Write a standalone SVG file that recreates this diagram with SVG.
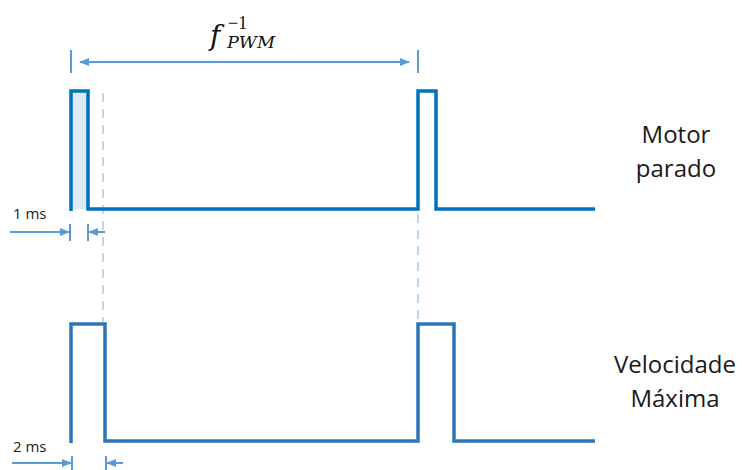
<svg xmlns="http://www.w3.org/2000/svg" width="742" height="470" viewBox="0 0 742 470">
<defs>
<marker id="ah" markerWidth="10" markerHeight="8" refX="9" refY="4" orient="auto" markerUnits="userSpaceOnUse">
<path d="M0,0 L10,4 L0,8 Z" fill="#5B9BD5"/>
</marker>
<style>
.wave1{fill:none;stroke:#0070C0;stroke-width:3.5;stroke-linejoin:miter}
.wave2{fill:none;stroke:#2E75B6;stroke-width:3.5;stroke-linejoin:miter}
.dim{fill:none;stroke:#5B9BD5;stroke-width:2}
.dash{fill:none;stroke:#BDD7EE;stroke-width:2;stroke-dasharray:9,7}
.lbl{font-family:"Open Sans","Liberation Sans",sans-serif;font-size:24px;fill:#1a1a1a;text-anchor:middle}
.ms{font-family:"Open Sans","Liberation Sans",sans-serif;font-size:15px;fill:#1a1a1a}
.mi{font-family:"DejaVu Serif","Liberation Serif",serif;font-style:italic;fill:#111}
.mn{font-family:"Liberation Serif",serif;font-style:normal;fill:#111}
</style>
</defs>
<rect width="742" height="470" fill="#fff"/>
<g id="guides">
<line class="dash" x1="103" y1="93" x2="103" y2="322"/>
<line class="dash" x1="418" y1="214" x2="418" y2="322"/>
</g>
<g id="wave-top">
<rect x="71" y="91" width="17" height="118" fill="#DEEBF7"/>
<path class="wave1" d="M71,211 V91 H88 V209 H418 V91 H436 V209 H595"/>
</g>
<g id="wave-bottom">
<path class="wave2" d="M71,443 V324 H105 V441 H418 V324 H454 V441 H595"/>
</g>
<g id="connectors">
<line class="dim" x1="71" y1="50" x2="71" y2="73"/>
<line class="dim" x1="418" y1="50" x2="418" y2="73"/>
<line class="dim" x1="80" y1="62" x2="409" y2="62" marker-end="url(#ah)"/>
<line class="dim" x1="409" y1="62" x2="80" y2="62" marker-end="url(#ah)"/>
<line class="dim" x1="70" y1="224" x2="70" y2="241"/>
<line class="dim" x1="88" y1="224" x2="88" y2="241"/>
<line class="dim" x1="10" y1="232" x2="69" y2="232" marker-end="url(#ah)"/>
<line class="dim" x1="105" y1="232" x2="89" y2="232" marker-end="url(#ah)"/>
<line class="dim" x1="72" y1="456" x2="72" y2="470"/>
<line class="dim" x1="106" y1="456" x2="106" y2="470"/>
<line class="dim" x1="12" y1="463" x2="71" y2="463" marker-end="url(#ah)"/>
<line class="dim" x1="123" y1="463" x2="107" y2="463" marker-end="url(#ah)"/>
</g>
<g id="label-period">
<text class="mi" x="210" y="45" font-size="28">f</text>
<text class="mn" x="228" y="29" font-size="18">−1</text>
<text class="mi" x="227" y="48" font-size="16" textLength="48" lengthAdjust="spacingAndGlyphs">PWM</text>
</g>
<g id="label-1ms"><text class="ms" x="13" y="219">1 ms</text></g>
<g id="label-2ms"><text class="ms" x="13" y="452">2 ms</text></g>
<g id="label-motor">
<text class="lbl" x="676" y="143">Motor</text>
<text class="lbl" x="676" y="177">parado</text>
</g>
<g id="label-vel">
<text class="lbl" x="675" y="373">Velocidade</text>
<text class="lbl" x="675" y="407">Máxima</text>
</g>
</svg>
